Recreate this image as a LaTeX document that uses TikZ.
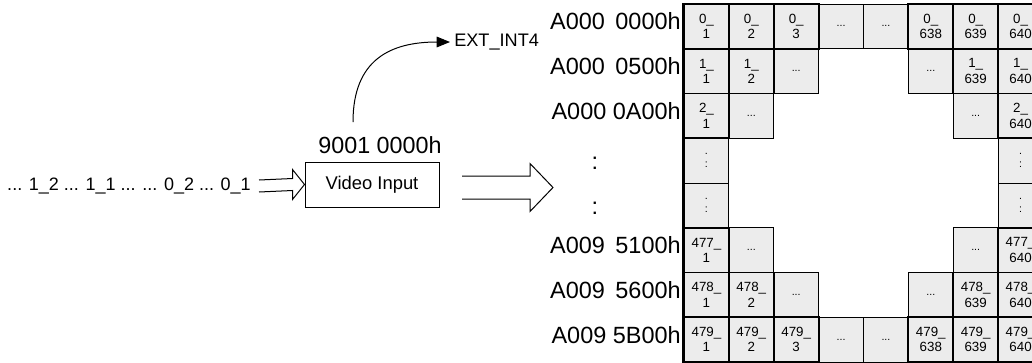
\documentclass[tikz,border=0pt]{standalone}
\usepackage{fontspec}
\setmainfont{Liberation Sans}
\usetikzlibrary{calc,arrows.meta}
\definecolor{cellgray}{RGB}{236,236,236}
\tikzset{
  cellbase/.style={fill=cellgray, minimum width=33.66pt, minimum height=33.56pt,
    inner sep=0pt, align=center, font=\fontsize{10}{11.5}\selectfont},
  datacell/.style={cellbase, draw, line width=1.4pt},
  dotcell/.style={cellbase, draw, line width=0.6pt},
  addr/.style={anchor=east, inner sep=0pt, font=\fontsize{17.6}{20}\selectfont},
  lbl/.style={inner sep=0pt, font=\fontsize{13.6}{16}\selectfont},
  fatarrow/.style={line width=0.75pt}
}
\begin{document}
\begin{tikzpicture}[x=0.75pt,y=-0.75pt]
\useasboundingbox (0,0) rectangle (1032,362);
% thin (dots) cells
\foreach \r/\c/\t in {0/3/{...},0/4/{...},1/2/{...},1/5/{...},2/1/{...},2/6/{...},
  3/0/{.\\:},4/0/{.\\:},3/7/{.\\:},4/7/{.\\:},
  5/1/{...},5/6/{...},6/2/{...},6/5/{...},7/3/{...},7/4/{...}}
  \node[dotcell, font=\fontsize{8}{9.5}\selectfont] (c-\r-\c) at ({684+(\c+0.5)*44.875},{4+(\r+0.5)*44.75}) {\t};
% numbered cells
\foreach \r/\c/\t in {0/0/{0\_\\1},0/1/{0\_\\2},0/2/{0\_\\3},0/5/{0\_\\638},0/6/{0\_\\639},0/7/{0\_\\640},
  1/0/{1\_\\1},1/1/{1\_\\2},1/6/{1\_\\639},1/7/{1\_\\640},
  2/0/{2\_\\1},2/7/{2\_\\640},
  5/0/{477\_\\1},5/7/{477\_\\640},
  6/0/{478\_\\1},6/1/{478\_\\2},6/6/{478\_\\639},6/7/{478\_\\640},
  7/0/{479\_\\1},7/1/{479\_\\2},7/2/{479\_\\3},7/5/{479\_\\638},7/6/{479\_\\639},7/7/{479\_\\640}}
  \node[datacell] (c-\r-\c) at ({684+(\c+0.5)*44.875},{4+(\r+0.5)*44.75}) {\t};
\draw[line width=1.4pt] (c-0-0.north west) -- (c-7-0.south west);
% address labels
\node[addr] (a0) at (681,21) {A000\hspace{0.45em}0000h};
\node[addr] (a1) at (681,66) {A000\hspace{0.45em}0500h};
\node[addr] (a2) at (681,111) {A000 0A00h};
\node[inner sep=0pt, font=\fontsize{17.6}{20}\selectfont] (a3) at (595,163) {:};
\node[inner sep=0pt, font=\fontsize{17.6}{20}\selectfont] (a4) at (595,208) {:};
\node[addr] (a5) at (681,245) {A009\hspace{0.45em}5100h};
\node[addr] (a6) at (681,290) {A009\hspace{0.45em}5600h};
\node[addr] (a7) at (681,335) {A009 5B00h};
% left part
\node[lbl, anchor=east, font=\fontsize{13.5}{15}\selectfont] (src) at (251,186) {... 1\_2 ... 1\_1 ... ... 0\_2 ... 0\_1};
\node[draw, line width=0.75pt, minimum width=100.5pt, minimum height=33.75pt, inner sep=0pt,
  font=\fontsize{13.8}{16}\selectfont] (vin) at (372,184.5) {Video Input};
\node[inner sep=0pt, font=\fontsize{17.5}{20}\selectfont] (addr9) at (380,145) {9001 0000h};
\node[lbl, anchor=west] (ext) at (454,42) {EXT\_INT4};
% small double arrow
\coordinate (s0) at ($(src.east)+(8,0)$);
\draw[fatarrow, line join=miter]
  ($(s0)+(0,-6)$) -- ($(vin.west)+(-12,-6)$) -- ($(vin.west)+(-12,-15)$) -- (vin.west)
  -- ($(vin.west)+(-12,15)$) -- ($(vin.west)+(-12,6)$) -- ($(s0)+(0,6)$);
% big double arrow
\coordinate (b0) at (462,187.5);
\coordinate (b1) at (553,187.5);
\draw[fatarrow, line join=miter]
  ($(b0)+(0,-11.5)$) -- ($(b1)+(-23,-11.5)$) -- ($(b1)+(-23,-24)$) -- (b1)
  -- ($(b1)+(-23,24)$) -- ($(b1)+(-23,11.5)$) -- ($(b0)+(0,11.5)$);
% curved arrow
\coordinate (cst) at (353,122);
\draw[line width=0.75pt, -{Triangle[length=10pt,width=8pt]}, shorten >=3pt]
  (cst) .. controls (353,60) and (390,42) .. (ext.west);
\end{tikzpicture}
\end{document}
